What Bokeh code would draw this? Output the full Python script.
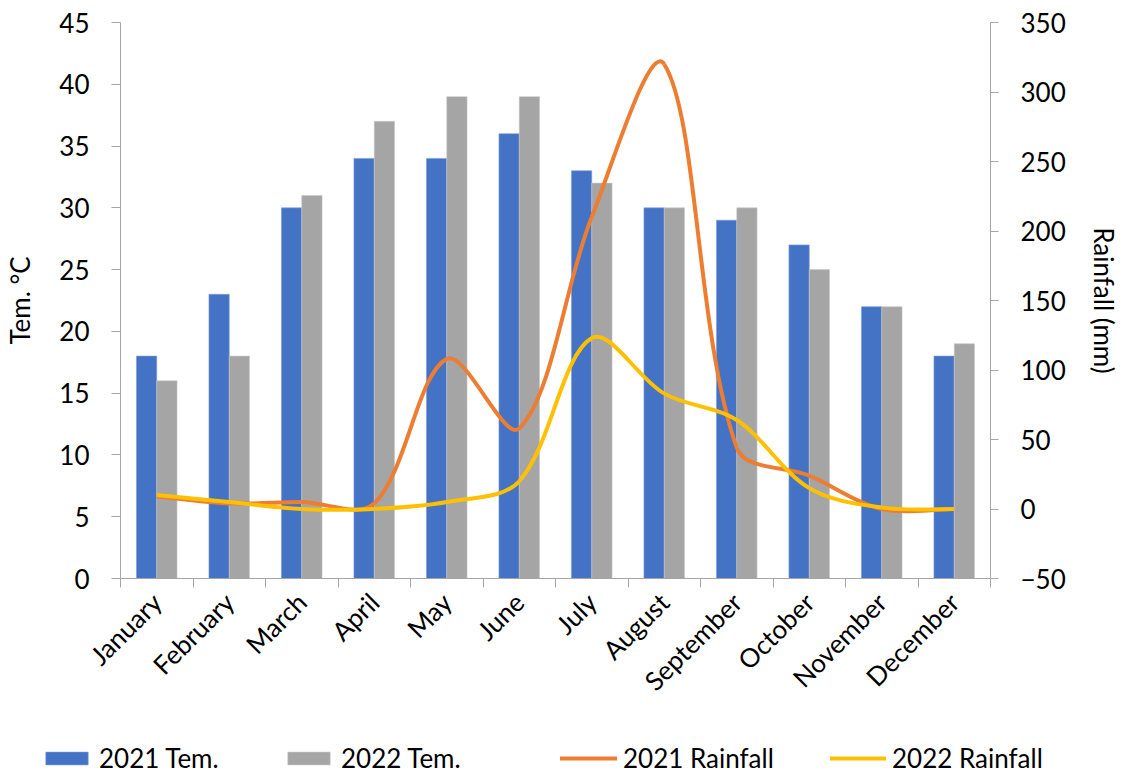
import math
import numpy as np
from bokeh.plotting import figure
from bokeh.models import Range1d, LinearAxis, FixedTicker, Legend, LegendItem
from bokeh.embed import file_html
from bokeh.resources import INLINE

months = ["January", "February", "March", "April", "May", "June",
          "July", "August", "September", "October", "November", "December"]
tem_2021 = [18, 23, 30, 34, 34, 36, 33, 30, 29, 27, 22, 18]
tem_2022 = [16, 18, 31, 37, 39, 39, 32, 30, 30, 25, 22, 19]
rain_2021 = [9, 4, 5, 4, 108, 58, 210, 320, 44, 24, 0, 0]
rain_2022 = [10, 5, 0, 0, 5, 20, 123, 83, 64, 15, 1, 0]
left_ticks = [0, 5, 10, 15, 20, 25, 30, 35, 40, 45]
right_ticks = [-50, 0, 50, 100, 150, 200, 250, 300, 350]

FONT = "Lato"
FS = "26px"
AXIS_COLOR = "#A6A6A6"
C_BLUE, C_GRAY, C_ORANGE, C_YELLOW = "#4472C4", "#A5A5A5", "#ED7D31", "#FFC000"

W, H = 1124, 774
# plot area in pixels (the canvas itself is the frame; axes sit at fixed locations)
PA_L, PA_R, PA_T, PA_B = 120, 990, 22, 578

n = len(months)
centers = np.arange(n) + 0.5
tem_lo, tem_hi = 0, 45
rain_lo, rain_hi = -50, 350

sx = (PA_R - PA_L) / n                      # px per category
sy_t = (PA_B - PA_T) / (tem_hi - tem_lo)    # px per degree
sy_r = (PA_B - PA_T) / (rain_hi - rain_lo)  # px per mm

x_range = Range1d(-PA_L / sx, (W - PA_L) / sx)
y_range = Range1d(tem_lo - (H - PA_B) / sy_t, tem_hi + PA_T / sy_t)
rain_range = Range1d(rain_lo - (H - PA_B) / sy_r, rain_hi + PA_T / sy_r)

p = figure(width=W, height=H, x_range=x_range, y_range=y_range,
           output_backend="svg", toolbar_location=None,
           x_axis_location=None, y_axis_location=None,
           min_border_left=0, min_border_right=0, min_border_top=0, min_border_bottom=0)
p.extra_y_ranges = {"rain": rain_range}
p.outline_line_color = None
p.xgrid.visible = False
p.ygrid.visible = False


def style_axis(ax):
    ax.axis_line_color = AXIS_COLOR
    ax.major_tick_line_color = AXIS_COLOR
    ax.minor_tick_line_color = AXIS_COLOR
    ax.major_label_text_font = FONT
    ax.major_label_text_font_size = FS
    ax.major_label_text_color = "black"
    ax.axis_label_text_font = FONT
    ax.axis_label_text_font_size = FS
    ax.axis_label_text_font_style = "normal"
    ax.axis_label_text_color = "black"
    ax.major_tick_in = 0
    ax.minor_tick_in = 0


# x axis: labels at category centres, ticks at category boundaries
xa = LinearAxis(fixed_location=0, bounds=(0, n),
                ticker=FixedTicker(ticks=list(centers), minor_ticks=list(range(n + 1))))
style_axis(xa)
xa.major_label_overrides = {float(c): m for c, m in zip(centers, months)}
xa.major_label_orientation = math.pi / 4
xa.major_tick_out = 0
xa.minor_tick_out = 9
xa.major_label_standoff = 10
p.add_layout(xa, "below")

ya = LinearAxis(fixed_location=0, bounds=(tem_lo, tem_hi),
                ticker=FixedTicker(ticks=left_ticks, minor_ticks=[]), axis_label="Tem. °C")
style_axis(ya)
ya.major_tick_out = 9
ya.minor_tick_out = 0
ya.major_label_standoff = 22
ya.axis_label_standoff = 20
p.add_layout(ya, "left")

ra = LinearAxis(fixed_location=n, y_range_name="rain", bounds=(rain_lo, rain_hi),
                ticker=FixedTicker(ticks=right_ticks, minor_ticks=[]), axis_label="Rainfall (mm)")
style_axis(ra)
ra.major_tick_out = 8
ra.minor_tick_out = 0
ra.major_label_standoff = 22
ra.axis_label_standoff = 19
p.add_layout(ra, "right")

bw = 0.28
r_b21 = p.vbar(x=centers - bw / 2, top=tem_2021, width=bw, bottom=0,
               fill_color=C_BLUE, line_color="#7F9FD9", line_width=1, line_alpha=0.6)
r_b22 = p.vbar(x=centers + bw / 2, top=tem_2022, width=bw, bottom=0,
               fill_color=C_GRAY, line_color="#C8C8C8", line_width=1, line_alpha=0.6)


def smooth(xs, ys):
    """Cubic Bezier segments through the data points (chord-weighted Catmull-Rom)."""
    xs = list(map(float, xs))
    ys = list(map(float, ys))
    m = len(xs)

    def d(a, b):
        return math.hypot((xs[b] - xs[a]) * sx, (ys[b] - ys[a]) * sy_r)

    out = {k: [] for k in ("x0", "y0", "x1", "y1", "cx0", "cy0", "cx1", "cy1")}
    for i in range(m - 1):
        im = max(i - 1, 0)
        ip2 = min(i + 2, m - 1)
        d_prev = d(im, i)
        d_cur = d(i, i + 1)
        d_next = d(i + 1, ip2)
        f0 = d_cur / (d_prev + d_cur) / 3.0 if d_prev > 0 else 1 / 6.0
        f1 = d_cur / (d_cur + d_next) / 3.0 if d_next > 0 else 1 / 6.0
        out["x0"].append(xs[i]); out["y0"].append(ys[i])
        out["x1"].append(xs[i + 1]); out["y1"].append(ys[i + 1])
        out["cx0"].append(xs[i] + (xs[i + 1] - xs[im]) * f0)
        out["cy0"].append(ys[i] + (ys[i + 1] - ys[im]) * f0)
        out["cx1"].append(xs[i + 1] - (xs[ip2] - xs[i]) * f1)
        out["cy1"].append(ys[i + 1] - (ys[ip2] - ys[i]) * f1)
    return out


for ys, col in ((rain_2021, C_ORANGE), (rain_2022, C_YELLOW)):
    p.bezier(**smooth(centers, ys), y_range_name="rain", line_color=col, line_width=4)

# legend proxies for the smoothed lines (placed outside the visible x range)
r_l21 = p.line(x=[-50, -49], y=[0, 0], y_range_name="rain", line_color=C_ORANGE,
               line_width=4, line_cap="round")
r_l22 = p.line(x=[-50, -49], y=[0, 0], y_range_name="rain", line_color=C_YELLOW,
               line_width=4, line_cap="round")


def add_leg(r, label, x, gw):
    lg = Legend(items=[LegendItem(label=label, renderers=[r])], location=(x, 0),
                orientation="horizontal", padding=0, margin=0, spacing=0,
                border_line_color=None, background_fill_alpha=0,
                label_text_font=FONT, label_text_font_size=FS, label_text_color="black",
                glyph_width=gw, glyph_height=16, label_standoff=6, label_height=26)
    p.add_layout(lg, "center")


add_leg(r_b21, "2021 Tem.", 40, 53)
add_leg(r_b22, "2022 Tem.", 282, 53)
add_leg(r_l21, "2021 Rainfall", 560, 57)
add_leg(r_l22, "2022 Rainfall", 830, 56)

open("out.html", "w").write(file_html(p, INLINE))
